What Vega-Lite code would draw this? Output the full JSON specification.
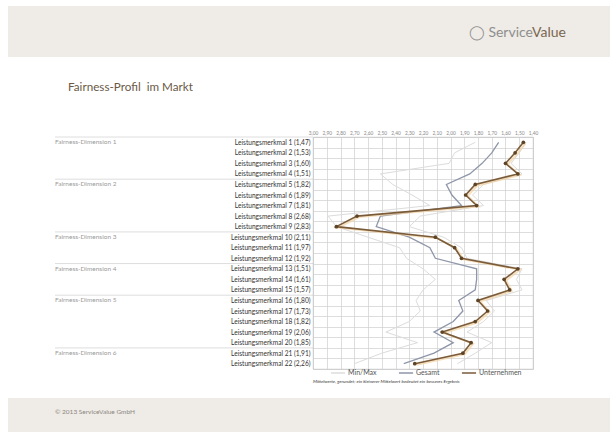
{
  "$schema": "https://vega.github.io/schema/vega-lite/v6.json",
  "background": "white",
  "padding": {"left": 8, "top": 6, "right": 0, "bottom": 0},
  "bounds": "flush",
  "spacing": 0,
  "config": {"font": "Lato", "view": {"stroke": null}},
  "datasets": {
    "profile": [
      {"n": 1, "item": "Leistungsmerkmal 1 (1,47)", "Unternehmen": 1.47, "Gesamt": 1.65, "Min": 1.45, "Max": 1.82},
      {"n": 2, "item": "Leistungsmerkmal 2 (1,53)", "Unternehmen": 1.53, "Gesamt": 1.70, "Min": 1.50, "Max": 1.97},
      {"n": 3, "item": "Leistungsmerkmal 3 (1,60)", "Unternehmen": 1.60, "Gesamt": 1.77, "Min": 1.56, "Max": 2.01},
      {"n": 4, "item": "Leistungsmerkmal 4 (1,51)", "Unternehmen": 1.51, "Gesamt": 1.86, "Min": 1.48, "Max": 2.51},
      {"n": 5, "item": "Leistungsmerkmal 5 (1,82)", "Unternehmen": 1.82, "Gesamt": 2.03, "Min": 1.76, "Max": 2.42},
      {"n": 6, "item": "Leistungsmerkmal 6 (1,89)", "Unternehmen": 1.89, "Gesamt": 1.99, "Min": 1.84, "Max": 2.28},
      {"n": 7, "item": "Leistungsmerkmal 7 (1,81)", "Unternehmen": 1.81, "Gesamt": 1.92, "Min": 1.76, "Max": 2.15},
      {"n": 8, "item": "Leistungsmerkmal 8 (2,68)", "Unternehmen": 2.68, "Gesamt": 2.51, "Min": 2.22, "Max": 2.89},
      {"n": 9, "item": "Leistungsmerkmal 9 (2,83)", "Unternehmen": 2.83, "Gesamt": 2.54, "Min": 2.30, "Max": 2.83},
      {"n": 10, "item": "Leistungsmerkmal 10 (2,11)", "Unternehmen": 2.11, "Gesamt": 2.30, "Min": 2.05, "Max": 2.60},
      {"n": 11, "item": "Leistungsmerkmal 11 (1,97)", "Unternehmen": 1.97, "Gesamt": 2.15, "Min": 1.92, "Max": 2.37},
      {"n": 12, "item": "Leistungsmerkmal 12 (1,92)", "Unternehmen": 1.92, "Gesamt": 2.11, "Min": 1.88, "Max": 2.32},
      {"n": 13, "item": "Leistungsmerkmal 13 (1,51)", "Unternehmen": 1.51, "Gesamt": 1.81, "Min": 1.48, "Max": 2.20},
      {"n": 14, "item": "Leistungsmerkmal 14 (1,61)", "Unternehmen": 1.61, "Gesamt": 1.81, "Min": 1.52, "Max": 2.11},
      {"n": 15, "item": "Leistungsmerkmal 15 (1,57)", "Unternehmen": 1.57, "Gesamt": 1.82, "Min": 1.48, "Max": 2.20},
      {"n": 16, "item": "Leistungsmerkmal 16 (1,80)", "Unternehmen": 1.80, "Gesamt": 1.94, "Min": 1.74, "Max": 2.25},
      {"n": 17, "item": "Leistungsmerkmal 17 (1,73)", "Unternehmen": 1.73, "Gesamt": 1.91, "Min": 1.68, "Max": 2.22},
      {"n": 18, "item": "Leistungsmerkmal 18 (1,82)", "Unternehmen": 1.82, "Gesamt": 1.98, "Min": 1.76, "Max": 2.30},
      {"n": 19, "item": "Leistungsmerkmal 19 (2,06)", "Unternehmen": 2.06, "Gesamt": 2.12, "Min": 1.88, "Max": 2.47},
      {"n": 20, "item": "Leistungsmerkmal 20 (1,85)", "Unternehmen": 1.85, "Gesamt": 1.98, "Min": 1.70, "Max": 2.24},
      {"n": 21, "item": "Leistungsmerkmal 21 (1,91)", "Unternehmen": 1.91, "Gesamt": 2.12, "Min": 1.82, "Max": 2.50},
      {"n": 22, "item": "Leistungsmerkmal 22 (2,26)", "Unternehmen": 2.26, "Gesamt": 2.34, "Min": 1.95, "Max": 2.70}
    ],
    "dims": [
      {"dim": "Fairness-Dimension 1", "first": "Leistungsmerkmal 1 (1,47)"},
      {"dim": "Fairness-Dimension 2", "first": "Leistungsmerkmal 5 (1,82)"},
      {"dim": "Fairness-Dimension 3", "first": "Leistungsmerkmal 10 (2,11)"},
      {"dim": "Fairness-Dimension 4", "first": "Leistungsmerkmal 13 (1,51)"},
      {"dim": "Fairness-Dimension 5", "first": "Leistungsmerkmal 16 (1,80)"},
      {"dim": "Fairness-Dimension 6", "first": "Leistungsmerkmal 21 (1,91)"}
    ]
  },
  "vconcat": [
    {
      "width": 602, "height": 51,
      "view": {"fill": "#efebe6", "stroke": null},
      "title": {"text": "◯ Service", "anchor": "end", "orient": "top", "offset": -34, "dx": -77, "font": "Lato", "fontSize": 14, "fontWeight": "normal", "color": "#8e8e8e"},
      "data": {"values": []},
      "mark": "point"
    },
    {
      "width": 602, "height": 80,
      "title": {"text": "Fairness-Profil\u00a0 im Markt", "anchor": "start", "orient": "top", "offset": -37, "dx": 60, "fontSize": 11.7, "fontWeight": "normal", "color": "#6b5946"},
      "data": {"values": []},
      "mark": "point"
    },
    {
      "bounds": "flush",
      "spacing": 0,
      "hconcat": [
        {"width": 47, "height": 232, "data": {"values": []}, "mark": "point"},
        {
          "width": 258, "height": 232,
          "data": {"name": "dims"},
          "encoding": {
            "y": {"field": "first", "type": "nominal", "axis": null,
              "scale": {"type": "band", "paddingInner": 0, "paddingOuter": 0, "domain": ["Leistungsmerkmal 1 (1,47)", "Leistungsmerkmal 2 (1,53)", "Leistungsmerkmal 3 (1,60)", "Leistungsmerkmal 4 (1,51)", "Leistungsmerkmal 5 (1,82)", "Leistungsmerkmal 6 (1,89)", "Leistungsmerkmal 7 (1,81)", "Leistungsmerkmal 8 (2,68)", "Leistungsmerkmal 9 (2,83)", "Leistungsmerkmal 10 (2,11)", "Leistungsmerkmal 11 (1,97)", "Leistungsmerkmal 12 (1,92)", "Leistungsmerkmal 13 (1,51)", "Leistungsmerkmal 14 (1,61)", "Leistungsmerkmal 15 (1,57)", "Leistungsmerkmal 16 (1,80)", "Leistungsmerkmal 17 (1,73)", "Leistungsmerkmal 18 (1,82)", "Leistungsmerkmal 19 (2,06)", "Leistungsmerkmal 20 (1,85)", "Leistungsmerkmal 21 (1,91)", "Leistungsmerkmal 22 (2,26)"]}}
          },
          "layer": [
            {
              "mark": {"type": "rule", "color": "#d6d6d6", "strokeWidth": 0.8},
              "encoding": {"y": {"field": "first", "type": "nominal", "bandPosition": 0}}
            },
            {
              "mark": {"type": "text", "align": "left", "baseline": "middle", "fontSize": 6.5, "color": "#9a9a9a"},
              "encoding": {
                "x": {"datum": 0, "type": "quantitative", "scale": {"domain": [0, 1]}, "axis": null},
                "text": {"field": "dim"}
              }
            }
          ]
        },
        {
          "width": 220, "height": 232,
          "data": {"name": "profile"},
          "view": {"stroke": "#b5b5b5", "strokeWidth": 0.8},
          "title": {"text": "Mittelwerte, gerundet; ein kleinerer Mittelwert bedeutet ein besseres Ergebnis", "orient": "bottom", "anchor": "start", "frame": "group", "fontSize": 4.6, "fontStyle": "italic", "fontWeight": "normal", "color": "#333333", "offset": 10},
          "transform": [{"fold": ["Min", "Max", "Gesamt", "Unternehmen"], "as": ["series", "value"]}],
          "encoding": {
            "y": {"field": "item", "type": "nominal",
              "scale": {"type": "band", "paddingInner": 0, "paddingOuter": 0, "domain": ["Leistungsmerkmal 1 (1,47)", "Leistungsmerkmal 2 (1,53)", "Leistungsmerkmal 3 (1,60)", "Leistungsmerkmal 4 (1,51)", "Leistungsmerkmal 5 (1,82)", "Leistungsmerkmal 6 (1,89)", "Leistungsmerkmal 7 (1,81)", "Leistungsmerkmal 8 (2,68)", "Leistungsmerkmal 9 (2,83)", "Leistungsmerkmal 10 (2,11)", "Leistungsmerkmal 11 (1,97)", "Leistungsmerkmal 12 (1,92)", "Leistungsmerkmal 13 (1,51)", "Leistungsmerkmal 14 (1,61)", "Leistungsmerkmal 15 (1,57)", "Leistungsmerkmal 16 (1,80)", "Leistungsmerkmal 17 (1,73)", "Leistungsmerkmal 18 (1,82)", "Leistungsmerkmal 19 (2,06)", "Leistungsmerkmal 20 (1,85)", "Leistungsmerkmal 21 (1,91)", "Leistungsmerkmal 22 (2,26)"]},
              "axis": {"title": null, "labelFontSize": 6.6, "labelColor": "#333333", "labelPadding": 3, "ticks": false, "domain": false, "grid": true, "gridColor": "#cfcfcf", "gridWidth": 0.7, "tickBand": "extent", "labelLimit": 0}},
            "x": {"field": "value", "type": "quantitative",
              "scale": {"domain": [1.4, 3.0], "reverse": true, "nice": false, "zero": false},
              "axis": {"orient": "top", "title": null, "values": [1.4, 1.5, 1.6, 1.7, 1.8, 1.9, 2.0, 2.1, 2.2, 2.3, 2.4, 2.5, 2.6, 2.7, 2.8, 2.9, 3.0], "labelExpr": "replace(format(datum.value, '.2f'), '.', ',')", "labelFontSize": 4.8, "labelColor": "#888888", "labelPadding": 2, "ticks": false, "domain": false, "grid": true, "gridColor": "#cfcfcf", "gridWidth": 0.7, "labelFlush": false, "labelOverlap": false}},
            "order": {"field": "n", "type": "quantitative"}
          },
          "layer": [
            {
              "transform": [{"filter": "datum.series == 'Min' || datum.series == 'Max'"}],
              "mark": {"type": "line", "strokeWidth": 1},
              "encoding": {
                "color": {"field": "series", "type": "nominal",
                  "scale": {"domain": ["Min", "Max", "Gesamt", "Unternehmen"], "range": ["#dcdcdc", "#dcdcdc", "#8e96a8", "#7a5b3a"]},
                  "legend": {"values": ["Min", "Gesamt", "Unternehmen"], "labelExpr": "datum.label == 'Min' ? 'Min/Max' : datum.label", "title": null, "orient": "none", "legendX": 322, "legendY": 359, "direction": "horizontal", "gridAlign": "none", "symbolType": "stroke", "symbolSize": 200, "symbolStrokeWidth": 1.5, "labelFontSize": 7, "labelOffset": 2, "labelColor": "#555555", "columnPadding": 18, "padding": 0}}
              }
            },
            {
              "transform": [{"filter": "datum.series == 'Gesamt'"}],
              "mark": {"type": "line", "strokeWidth": 1.3},
              "encoding": {"color": {"field": "series", "type": "nominal"}}
            },
            {
              "transform": [{"filter": "datum.series == 'Unternehmen'"}],
              "mark": {"type": "line", "strokeWidth": 2, "color": "#f3d3a3", "opacity": 0.7, "xOffset": 2, "yOffset": 1}
            },
            {
              "transform": [{"filter": "datum.series == 'Unternehmen'"}],
              "mark": {"type": "line", "strokeWidth": 1.6},
              "encoding": {"color": {"field": "series", "type": "nominal"}}
            },
            {
              "transform": [{"filter": "datum.series == 'Unternehmen'"}],
              "mark": {"type": "point", "filled": true, "size": 14, "color": "#5e4426", "opacity": 1}
            }
          ]
        }
      ]
    },
    {
      "width": 602, "height": 261,
      "title": {"text": "Value", "anchor": "end", "orient": "top", "offset": 97, "dx": -44, "font": "Lato", "fontSize": 14, "fontWeight": "normal", "color": "#7a6650"},
      "data": {"values": []},
      "mark": "point"
    },
    {
      "width": 602, "height": 34,
      "view": {"fill": "#efebe6", "stroke": null},
      "title": {"text": "© 2013 ServiceValue GmbH", "anchor": "start", "orient": "top", "offset": -17, "dx": 47, "fontSize": 6.5, "fontWeight": "normal", "color": "#8b8782"},
      "data": {"values": []},
      "mark": "point"
    }
  ]
}
